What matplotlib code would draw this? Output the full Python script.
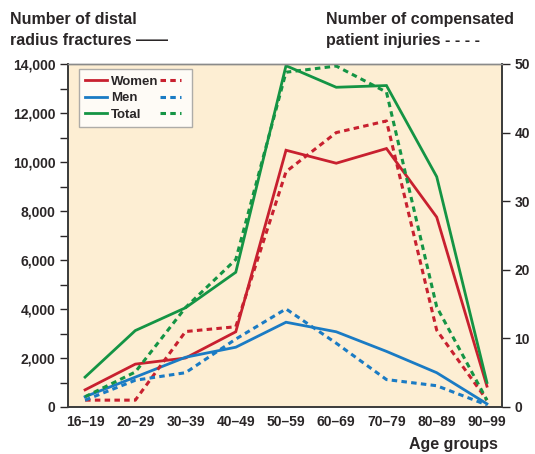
import matplotlib
matplotlib.use("Agg")
import matplotlib.pyplot as plt
from matplotlib.lines import Line2D
from matplotlib.ticker import MultipleLocator, FuncFormatter

plt.rcParams['font.family'] = ['Liberation Sans', 'DejaVu Sans']
plt.rcParams['font.weight'] = 'bold'

age_groups = ["16–19", "20–29", "30–39", "40–49", "50–59", "60–69", "70–79", "80–89", "90–99"]

# Number of distal radius fractures (left axis, solid)
fract_women = [700, 1750, 2000, 3070, 10480, 9950, 10550, 7750, 850]
fract_men = [420, 1220, 2030, 2440, 3460, 3070, 2270, 1400, 130]
fract_total = [1220, 3120, 4050, 5500, 13930, 13050, 13120, 9400, 1000]

# Number of compensated patient injuries (right axis, dotted)
comp_women = [1, 1, 11, 11.7, 34.3, 40, 41.7, 11.2, 1]
comp_men = [1, 3.9, 5, 9.9, 14.3, 9.3, 4, 3.1, 0.3]
comp_total = [1.5, 5.1, 14.5, 21.5, 48.8, 49.7, 45.9, 14.6, 1]

RED = "#c8202f"
BLUE = "#1a7bc4"
GREEN = "#149444"
TXT = "#2a2627"
BG = "#fdeed3"

fig = plt.figure(figsize=(5.35, 4.54), dpi=100)
ax = fig.add_axes([68/535, 47/454, 434/535, 343/454])
ax.set_facecolor(BG)
ax2 = ax.twinx()

x = list(range(len(age_groups)))
lw = 2.0
dash = (0, (1.8, 1.4))

ax.plot(x, fract_women, color=RED, lw=lw, solid_joinstyle='miter')
ax.plot(x, fract_men, color=BLUE, lw=lw, solid_joinstyle='miter')
ax.plot(x, fract_total, color=GREEN, lw=lw, solid_joinstyle='miter')

ax2.plot(x, comp_women, color=RED, lw=2.2, linestyle=dash)
ax2.plot(x, comp_men, color=BLUE, lw=2.2, linestyle=dash)
ax2.plot(x, comp_total, color=GREEN, lw=2.2, linestyle=dash)

ax.set_xlim(-0.34, 8.3)
ax.set_ylim(0, 14000)
ax2.set_ylim(0, 50)

ax.yaxis.set_major_locator(MultipleLocator(2000))
ax.yaxis.set_minor_locator(MultipleLocator(1000))
ax.yaxis.set_major_formatter(FuncFormatter(lambda v, p: f"{int(v):,}"))
ax2.yaxis.set_major_locator(MultipleLocator(10))

ax.set_xticks(x)
ax.set_xticklabels(age_groups)
ax.tick_params(axis='x', length=0, pad=6, labelsize=10, colors=TXT)
ax.tick_params(axis='y', which='major', length=6, width=1, pad=3, labelsize=10, colors=TXT)
ax.tick_params(axis='y', which='minor', length=6, width=1, colors=TXT)
ax2.tick_params(axis='y', length=6, width=1, pad=3, labelsize=10, colors=TXT)

for a in (ax, ax2):
    a.spines['top'].set_color('#8a8a8a')
    a.spines['top'].set_linewidth(1.0)
    for s in ('left', 'right', 'bottom'):
        a.spines[s].set_color('#3a3a3a')
        a.spines[s].set_linewidth(1.2)

# Legend: solid (fractures) and dotted (injuries) per group
handles = [
    Line2D([], [], color=RED, lw=lw),
    Line2D([], [], color=BLUE, lw=lw),
    Line2D([], [], color=GREEN, lw=lw),
    Line2D([], [], color=RED, lw=2.2, linestyle=dash),
    Line2D([], [], color=BLUE, lw=2.2, linestyle=dash),
    Line2D([], [], color=GREEN, lw=2.2, linestyle=dash),
]
labels = ["Women", "Men", "Total", "", "", ""]
leg = ax2.legend(handles, labels, ncol=2, loc='upper left', bbox_to_anchor=(0.025, 0.985),
                 fontsize=9.5, frameon=True, fancybox=False, handlelength=1.6,
                 handletextpad=0.35, columnspacing=0.1, labelspacing=0.32,
                 borderpad=0.5, borderaxespad=0)
leg.get_frame().set_edgecolor('#9a9a9a')
leg.get_frame().set_linewidth(1.0)
leg.get_frame().set_facecolor('white')
for t in leg.get_texts():
    t.set_color(TXT)

fs = 11.5
fig.text(10/535, 1 - 24/454, "Number of distal", fontsize=fs, color=TXT, va='baseline', ha='left')
fig.text(10/535, 1 - 45/454, "radius fractures ——", fontsize=fs, color=TXT, va='baseline', ha='left')
fig.text(326/535, 1 - 24/454, "Number of compensated", fontsize=fs, color=TXT, va='baseline', ha='left')
fig.text(326/535, 1 - 45/454, "patient injuries - - - -", fontsize=fs, color=TXT, va='baseline', ha='left')
fig.text(498/535, 1 - 449/454, "Age groups", fontsize=fs, color=TXT, va='baseline', ha='right')

fig.savefig("out.png", dpi=100, facecolor='white')
